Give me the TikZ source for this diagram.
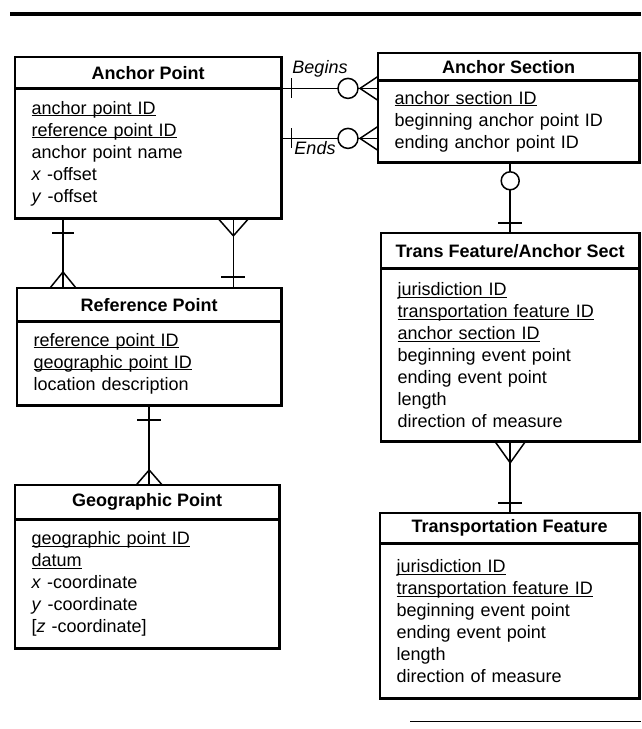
\documentclass[tikz,border=0pt]{standalone}
\usepackage{fontspec}
\setmainfont{Liberation Sans}
\usetikzlibrary{positioning}
\usetikzlibrary{calc}

\newcommand{\keyattr}[1]{\leavevmode\setbox0=\hbox{#1}\rlap{\rule[-2pt]{\wd0}{0.9pt}}\box0}

\tikzset{
  enttitle/.style={draw, line width=1.4pt, inner sep=0pt, anchor=north west,
    font=\bfseries\fontsize{18}{22}\selectfont},
  entbody/.style={draw, line width=1.4pt, inner xsep=16pt, inner ysep=0pt, align=left,
    font=\fontsize{18}{22}\selectfont},
  entframe/.style={line width=2.8pt},
  link/.style={line width=1.5pt},
  role/.style={font=\itshape\fontsize{18}{22}\selectfont}
}

\begin{document}
\begin{tikzpicture}[x=1pt,y=-1pt]
\useasboundingbox (0,0) rectangle (641,729);
\draw[line width=4pt] (10,14) -- (641,14);
\draw[line width=1pt] (410,721) -- (641,721);

% entities
\node[enttitle, minimum width=265pt, minimum height=30pt] (ap) at (15,57) {Anchor Point};
\node[entbody, text width=233pt, minimum height=129pt, below=0pt of ap] (ap-a)
  {\keyattr{anchor point ID}\\ \keyattr{reference point ID}\\ anchor point name\\
   \textit{x} -offset\\ \textit{y} -offset};

\node[enttitle, minimum width=260pt, minimum height=26pt] (as) at (378,53) {Anchor Section};
\node[entbody, text width=228pt, minimum height=81pt, below=0pt of as] (as-a)
  {\keyattr{anchor section ID}\\ beginning anchor point ID\\ ending anchor point ID};

\node[enttitle, minimum width=257pt, minimum height=34pt] (tfa) at (381,233) {Trans Feature/Anchor Sect};
\node[entbody, text width=225pt, minimum height=172pt, below=0pt of tfa] (tfa-a)
  {\keyattr{jurisdiction ID}\\ \keyattr{transportation feature ID}\\ \keyattr{anchor section ID}\\
   beginning event point\\ ending event point\\ length\\ direction of measure};

\node[enttitle, minimum width=263pt, minimum height=32pt] (rp) at (17,288) {Reference Point};
\node[entbody, text width=231pt, minimum height=83pt, below=0pt of rp] (rp-a)
  {\keyattr{reference point ID}\\ \keyattr{geographic point ID}\\ location description};

\node[enttitle, minimum width=263pt, minimum height=33pt] (gp) at (15,485) {Geographic Point};
\node[entbody, text width=231pt, minimum height=128pt, below=0pt of gp] (gp-a)
  {\keyattr{geographic point ID}\\ \keyattr{datum}\\ \textit{x} -coordinate\\
   \textit{y} -coordinate\\ {[}\textit{z} -coordinate]};

\node[enttitle, minimum width=258pt, minimum height=29pt] (tf) at (380,513) {Transportation Feature};
\node[entbody, text width=226pt, minimum height=154pt, below=0pt of tf] (tf-a)
  {\keyattr{jurisdiction ID}\\ \keyattr{transportation feature ID}\\ beginning event point\\
   ending event point\\ length\\ direction of measure};

\draw[entframe] (ap.north west) rectangle (ap-a.south east);
\draw[entframe] (as.north west) rectangle (as-a.south east);
\draw[entframe] (tfa.north west) rectangle (tfa-a.south east);
\draw[entframe] (rp.north west) rectangle (rp-a.south east);
\draw[entframe] (gp.north west) rectangle (gp-a.south east);
\draw[entframe] (tf.north west) rectangle (tf-a.south east);

% Begins
\coordinate (b-end) at (ap.south east -| as-a.west);
\draw[link] (ap.south east) -- (b-end);
\draw[link] ([xshift=10pt,yshift=10pt]ap.south east) -- ([xshift=10pt,yshift=-10pt]ap.south east);
\draw[link,fill=white] ([xshift=-30pt]b-end) circle (10pt);
\draw[link] ([yshift=12pt]b-end) -- ([xshift=-18pt]b-end) -- ([yshift=-12pt]b-end);
\node[role] (begins) at (320,69) {Begins};

% Ends
\coordinate (e-start) at ([yshift=-50pt]ap.south east);
\coordinate (e-end) at (e-start -| as-a.west);
\draw[link] (e-start) -- (e-end);
\draw[link] ([xshift=10pt,yshift=10pt]e-start) -- ([xshift=10pt,yshift=-10pt]e-start);
\draw[link,fill=white] ([xshift=-30pt]e-end) circle (10pt);
\draw[link] ([yshift=12pt]e-end) -- ([xshift=-18pt]e-end) -- ([yshift=-12pt]e-end);
\node[role] (ends) at (315,148) {Ends};

% section to trans feature/anchor sect
\coordinate (s-top) at (as-a.south -| tfa.north);
\draw[link] (s-top) -- (tfa.north);
\draw[link,fill=white] ([yshift=-18pt]s-top) circle (9pt);
\draw[link] ([xshift=-12pt,yshift=10pt]tfa.north) -- ([xshift=12pt,yshift=10pt]tfa.north);

% anchor point to reference point
\coordinate (l-top) at ([xshift=48pt]ap-a.south west);
\coordinate (l-bot) at (l-top |- rp.north);
\draw[link] (l-top) -- (l-bot);
\draw[link] ([xshift=-11pt,yshift=-14pt]l-top) -- ([xshift=11pt,yshift=-14pt]l-top);
\draw[link] ([xshift=-13pt]l-bot) -- ([yshift=16pt]l-bot) -- ([xshift=13pt]l-bot);

\coordinate (r-top) at ([xshift=-48pt]ap-a.south east);
\coordinate (r-bot) at (r-top |- rp.north);
\draw[link] (r-top) -- (r-bot);
\draw[link] ([xshift=-15pt]r-top) -- ([yshift=-17pt]r-top) -- ([xshift=15pt]r-top);
\draw[link] ([xshift=-12pt,yshift=11pt]r-bot) -- ([xshift=12pt,yshift=11pt]r-bot);

% reference point to geographic point
\coordinate (g-top) at (rp-a.south);
\coordinate (g-bot) at (g-top |- gp.north);
\draw[link] (g-top) -- (g-bot);
\draw[link] ([xshift=-12pt,yshift=-14pt]g-top) -- ([xshift=12pt,yshift=-14pt]g-top);
\draw[link] ([xshift=-13pt]g-bot) -- ([yshift=15pt]g-bot) -- ([xshift=13pt]g-bot);

% trans feature/anchor sect to transportation feature
\coordinate (t-top) at (tfa-a.south);
\coordinate (t-bot) at (t-top |- tf.north);
\draw[link] (t-top) -- (t-bot);
\draw[link] ([xshift=-15pt]t-top) -- ([yshift=-21pt]t-top) -- ([xshift=15pt]t-top);
\draw[link] ([xshift=-12pt,yshift=10pt]t-bot) -- ([xshift=12pt,yshift=10pt]t-bot);
\end{tikzpicture}
\end{document}
